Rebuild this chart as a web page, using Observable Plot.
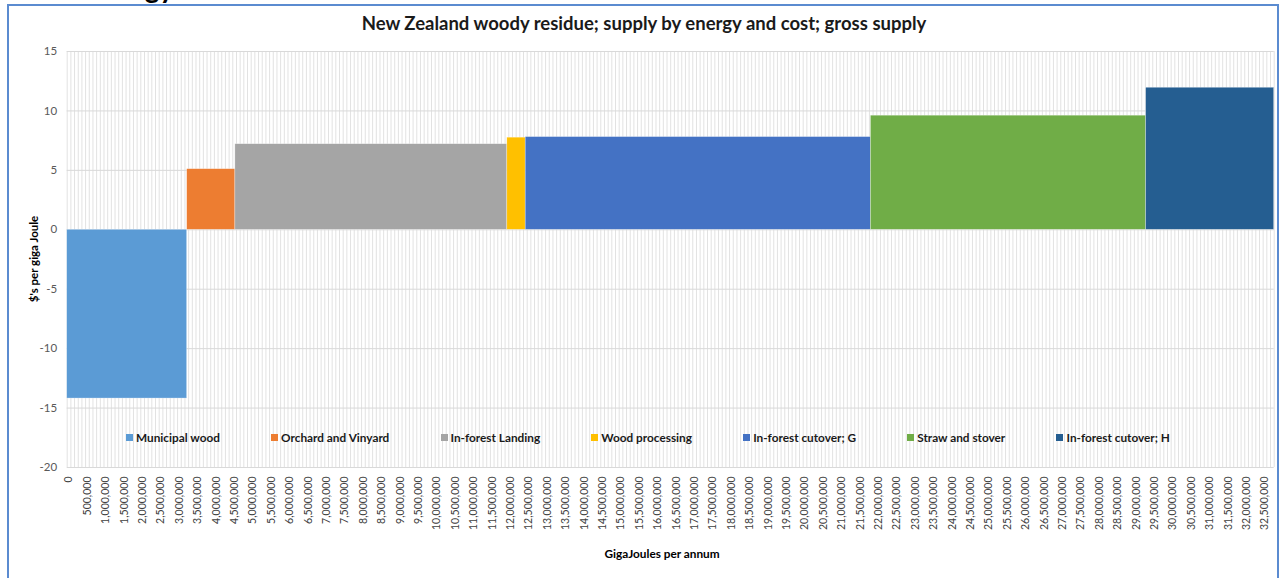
<!DOCTYPE html>
<html>
<head>
<meta charset="utf-8">
<script src="https://cdn.jsdelivr.net/npm/d3@7"></script>
<script src="https://cdn.jsdelivr.net/npm/@observablehq/plot@0.6"></script>
<style>
  html, body { margin: 0; padding: 0; background: #fff; }
  body { width: 1282px; height: 578px; overflow: hidden; position: relative; font-family: Lato, "Open Sans", sans-serif; }
  #chart { position: absolute; left: 0; top: 0; }
  #frame { position: absolute; left: 7px; top: 4px; width: 1272px; height: 640px; border: 2px solid #5b8bd0; box-sizing: border-box; pointer-events: none; }
  #heading { position: absolute; left: 88px; top: -30px; font-size: 28px; font-weight: bold; color: #000; }
  #title { position: absolute; left: 0; width: 1288px; top: 12px; text-align: center; font-weight: bold; font-size: 18.5px; color: #1a1a1a; }
  #ylabel { position: absolute; left: 33px; top: 259px; transform: translate(-50%, -50%) rotate(-90deg); font-weight: bold; font-size: 11.5px; color: #000; white-space: nowrap; }
  #xlabel { position: absolute; left: 662px; top: 553px; transform: translate(-50%, -50%); font-weight: bold; font-size: 11.8px; color: #000; white-space: nowrap; }
  #legend { position: absolute; left: 126px; top: 430px; display: flex; gap: 51.2px; font-size: 11.8px; font-weight: bold; color: #1a1a1a; white-space: nowrap; }
  #legend .item { display: flex; align-items: center; }
  #legend .sw { width: 7px; height: 7px; margin-right: 3px; }
</style>
</head>
<body>
<div id="heading">Energy</div>
<div id="chart"></div>
<div id="title">New Zealand woody residue; supply by energy and cost; gross supply</div>
<div id="ylabel">$'s per giga Joule</div>
<div id="xlabel">GigaJoules per annum</div>
<div id="legend"></div>
<div id="frame"></div>
<script>
// ---- data ----
const sources = ["Municipal wood", "Orchard and Vinyard", "In-forest Landing", "Wood processing", "In-forest cutover; G", "Straw and stover", "In-forest cutover; H"];
const supplyGJ = [3260000, 1310000, 7390000, 500000, 9380000, 7480000, 3480000];
const costPerGJ = [-14.2, 5.1, 7.2, 7.75, 7.8, 9.6, 11.95];
const colors = ["#5b9bd5", "#ed7d31", "#a5a5a5", "#ffc000", "#4472c4", "#70ad47", "#255e91"];
const yTicks = [-20, -15, -10, -5, 0, 5, 10, 15];
const xTickLabels = d3.range(0, 32500001, 500000);
const categoryWidth = 100000; // Excel category axis bin size
const xMax = 32800000;

// ---- build table ----
let acc = 0;
const rows = sources.map((s, i) => {
  const r = { source: s, start: acc, end: acc + supplyGJ[i], cost: costPerGJ[i] };
  acc += supplyGJ[i];
  return r;
});
const gridX = d3.range(0, xMax + 1, categoryWidth);
const fmt = d3.format(",");

const chart = Plot.plot({
  width: 1282,
  height: 578,
  marginLeft: 66.7,
  marginRight: 8.3,
  marginTop: 51,
  marginBottom: 111,
  style: { fontFamily: "Lato, sans-serif", background: "transparent" },
  x: { domain: [0, xMax] },
  y: { domain: [-20, 15] },
  color: { domain: sources, range: colors },
  marks: [
    Plot.ruleX(gridX, { stroke: "#e2e2e2", strokeWidth: 1 }),
    Plot.ruleY(yTicks, { stroke: "#d9d9d9", strokeWidth: 1 }),
    Plot.rectY(rows, { x1: "start", x2: "end", y1: 0, y2: "cost", fill: "source", stroke: "#ffffff", strokeWidth: 0.6, strokeOpacity: 0.5 }),
    Plot.axisY({ ticks: yTicks, tickSize: 0, tickPadding: 10, fontSize: 11.5, fill: "#595959", label: null, tickFormat: d => String(d) }),
    Plot.axisX({ ticks: xTickLabels.map(v => v + categoryWidth / 2), tickFormat: d => fmt(d - categoryWidth / 2), tickRotate: -90, tickSize: 0, tickPadding: 9, fontSize: 10.5, fill: "#404040", label: null })
  ]
});
document.getElementById("chart").appendChild(chart);

// ---- legend ----
const legend = document.getElementById("legend");
sources.forEach((s, i) => {
  const item = document.createElement("div");
  item.className = "item";
  const sw = document.createElement("span");
  sw.className = "sw";
  sw.style.background = colors[i];
  const t = document.createElement("span");
  t.textContent = s;
  item.appendChild(sw);
  item.appendChild(t);
  legend.appendChild(item);
});
</script>
</body>
</html>
